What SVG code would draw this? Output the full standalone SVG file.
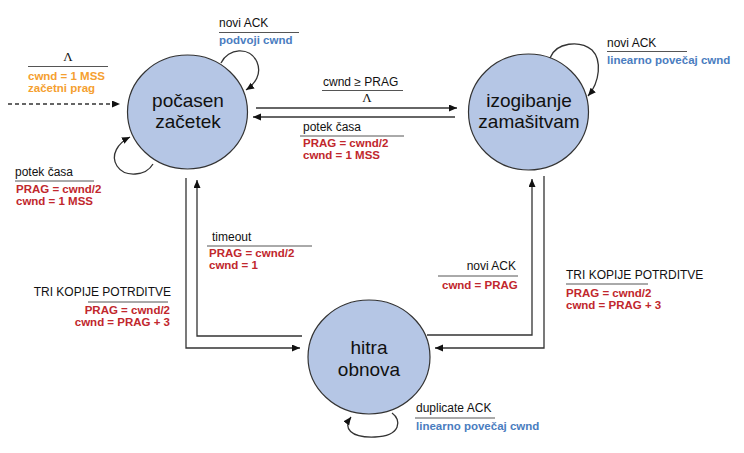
<svg xmlns="http://www.w3.org/2000/svg" width="744" height="453" viewBox="0 0 744 453">
<defs>
<marker id="arr" markerWidth="9" markerHeight="8" refX="8" refY="3.5" orient="auto" markerUnits="userSpaceOnUse">
<path d="M0,0 L8,3.5 L0,7 z" fill="#111"/>
</marker>
<style>
.node{fill:#b5c6e5;stroke:#333;stroke-width:1.2}
.nl{font-family:"Liberation Sans",Arial,sans-serif;font-size:19px;fill:#111;text-anchor:middle}
.c{fill:none;stroke:#333;stroke-width:1.3}
.t{font-family:"Liberation Sans",Arial,sans-serif;font-size:12px;fill:#111}
.b{font-family:"Liberation Sans",Arial,sans-serif;font-size:11.5px;font-weight:bold}
.red{fill:#c1272d}
.blue{fill:#4a7dc0}
.org{fill:#f5a030}
.ul{stroke:#555;stroke-width:1}
.lam{font-family:"Liberation Serif","Times New Roman",serif;font-size:13px;fill:#111;text-anchor:middle}
.e{text-anchor:end}
</style>
</defs>
<rect width="744" height="453" fill="#fff"/>

<g id="node-slow-start">
<ellipse class="node" cx="187.5" cy="112" rx="60" ry="57"/>
<text class="nl" x="188" y="107">počasen</text>
<text class="nl" x="188" y="128">začetek</text>
</g>

<g id="node-congestion-avoidance">
<ellipse class="node" cx="528.5" cy="112" rx="60" ry="58"/>
<text class="nl" x="529" y="107">izogibanje</text>
<text class="nl" x="529" y="128">zamašitvam</text>
</g>

<g id="node-fast-recovery">
<ellipse class="node" cx="369" cy="357" rx="61" ry="57"/>
<text class="nl" x="369" y="354">hitra</text>
<text class="nl" x="369" y="376">obnova</text>
</g>

<g id="connectors">
<path class="c" d="M8,104 H120" stroke-dasharray="4,3" marker-end="url(#arr)"/>
<path class="c" d="M256,108 H457" marker-end="url(#arr)"/>
<path class="c" d="M455,117 H253" marker-end="url(#arr)"/>
<path class="c" d="M186,178 V348 H300" marker-end="url(#arr)"/>
<path class="c" d="M302,336 H197 V180" marker-end="url(#arr)"/>
<path class="c" d="M427,335 H532 V179" marker-end="url(#arr)"/>
<path class="c" d="M544,176 V348 H435" marker-end="url(#arr)"/>
<path class="c" d="M221,63 C228,48 250,46 257,62 C262,74 255,84 246,90" marker-end="url(#arr)"/>
<path class="c" d="M153,164 C146,176 125,178 117,166 C110,155 118,143 130,137" marker-end="url(#arr)"/>
<path class="c" d="M550,58 C556,42 580,40 592,50 C602,60 600,82 588,96" marker-end="url(#arr)"/>
<path class="c" d="M392,413 C402,420 401,436 375,437 C350,438 343,428 351,417" marker-end="url(#arr)"/>
</g>

<g id="labels">
<text class="lam" x="68" y="61">Λ</text>
<line class="ul" x1="28" y1="66.5" x2="108" y2="66.5"/>
<text class="b org" x="28" y="80">cwnd = 1 MSS</text>
<text class="b org" x="28" y="92">začetni prag</text>

<text class="t" x="219" y="27">novi ACK</text>
<line class="ul" x1="219" y1="32.5" x2="299" y2="32.5"/>
<text class="b blue" x="219" y="44">podvoji cwnd</text>

<text class="t" x="15" y="176">potek časa</text>
<line class="ul" x1="15" y1="181" x2="94" y2="181"/>
<text class="b red" x="16" y="193">PRAG = cwnd/2</text>
<text class="b red" x="16" y="205">cwnd = 1 MSS</text>

<text class="t" x="323" y="86">cwnd ≥ PRAG</text>
<line class="ul" x1="322" y1="90.5" x2="403" y2="90.5"/>
<text class="lam" x="367" y="102">Λ</text>

<text class="t" x="303" y="131">potek časa</text>
<line class="ul" x1="300" y1="136" x2="404" y2="136"/>
<text class="b red" x="303" y="147">PRAG = cwnd/2</text>
<text class="b red" x="303" y="158.5">cwnd = 1 MSS</text>

<text class="t" x="607" y="47">novi ACK</text>
<line class="ul" x1="607" y1="51.5" x2="687" y2="51.5"/>
<text class="b blue" x="607" y="64">linearno povečaj cwnd</text>

<text class="t" x="212" y="241">timeout</text>
<line class="ul" x1="207" y1="246" x2="312" y2="246"/>
<text class="b red" x="209" y="257">PRAG = cwnd/2</text>
<text class="b red" x="209" y="269">cwnd = 1</text>

<text class="t e" x="171" y="296">TRI KOPIJE POTRDITVE</text>
<line class="ul" x1="88" y1="302" x2="168" y2="302"/>
<text class="b red e" x="170" y="314">PRAG = cwnd/2</text>
<text class="b red e" x="170" y="326">cwnd = PRAG + 3</text>

<text class="t e" x="516" y="270">novi ACK</text>
<line class="ul" x1="438" y1="276" x2="518" y2="276"/>
<text class="b red" x="442" y="289">cwnd = PRAG</text>

<text class="t" x="566" y="279">TRI KOPIJE POTRDITVE</text>
<line class="ul" x1="566" y1="284" x2="648" y2="284"/>
<text class="b red" x="566" y="297">PRAG = cwnd/2</text>
<text class="b red" x="566" y="308.5">cwnd = PRAG + 3</text>

<text class="t" x="416" y="412">duplicate ACK</text>
<line class="ul" x1="415" y1="418" x2="495" y2="418"/>
<text class="b blue" x="416" y="430">linearno povečaj cwnd</text>
</g>
</svg>
